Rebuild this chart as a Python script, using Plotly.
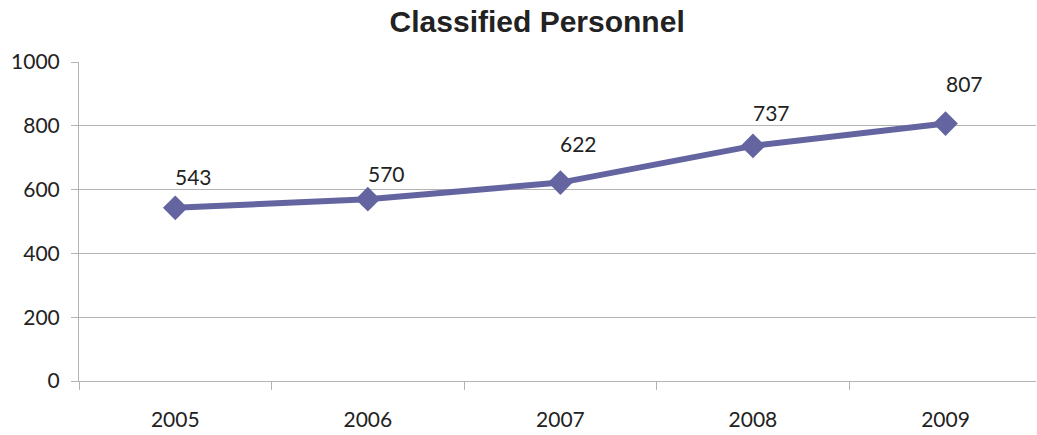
import plotly.graph_objects as go

years = ["2005", "2006", "2007", "2008", "2009"]
values = [543, 570, 622, 737, 807]
y_ticks = [0, 200, 400, 600, 800, 1000]

# label placement (style only): vertical offsets in px above each point
label_yshift = [31, 26, 39, 33, 40]

line_color = "#6364A0"
grid_color = "#B3B3B3"
font_family = "Lato, 'Open Sans', sans-serif"

fig = go.Figure()
fig.add_trace(go.Scatter(
    x=years, y=values, mode="lines+markers",
    line=dict(color=line_color, width=6),
    marker=dict(symbol="diamond", size=19, color=line_color),
    hoverinfo="x+y", showlegend=False,
))

for i, v in enumerate(values):
    fig.add_annotation(x=i, y=v, xref="x", yref="y", text=str(v), showarrow=False,
                       xanchor="left", xshift=-2, yshift=label_yshift[i],
                       font=dict(family=font_family, size=21, color="#222222"))

fig.update_layout(
    width=1037, height=435,
    margin=dict(l=79, r=1, t=62, b=54, autoexpand=False),
    paper_bgcolor="white", plot_bgcolor="white",
    title=dict(text="<b>Classified Personnel</b>", x=0.518, xanchor="center",
               y=0.95, yanchor="middle",
               font=dict(family="Liberation Sans, Arial, sans-serif", size=30, color="#222222")),
    font=dict(family=font_family, size=21, color="#222222"),
)
fig.update_xaxes(
    type="category", range=[-0.5, 4.47], tickson="boundaries", automargin=False,
    ticks="outside", ticklen=8, tickcolor=grid_color,
    showline=True, linecolor=grid_color, linewidth=1,
    showgrid=False, ticklabelstandoff=20,
)
fig.update_yaxes(
    range=[0, 1000], tickvals=y_ticks, ticks="outside", ticklen=7, automargin=False,
    tickcolor=grid_color, showline=True, linecolor=grid_color, linewidth=1,
    showgrid=True, gridcolor=grid_color, gridwidth=1, zeroline=False,
    ticklabelstandoff=7,
)

fig.write_html("out.html", config={"displayModeBar": False},
               post_script="document.body.style.margin='0';")
